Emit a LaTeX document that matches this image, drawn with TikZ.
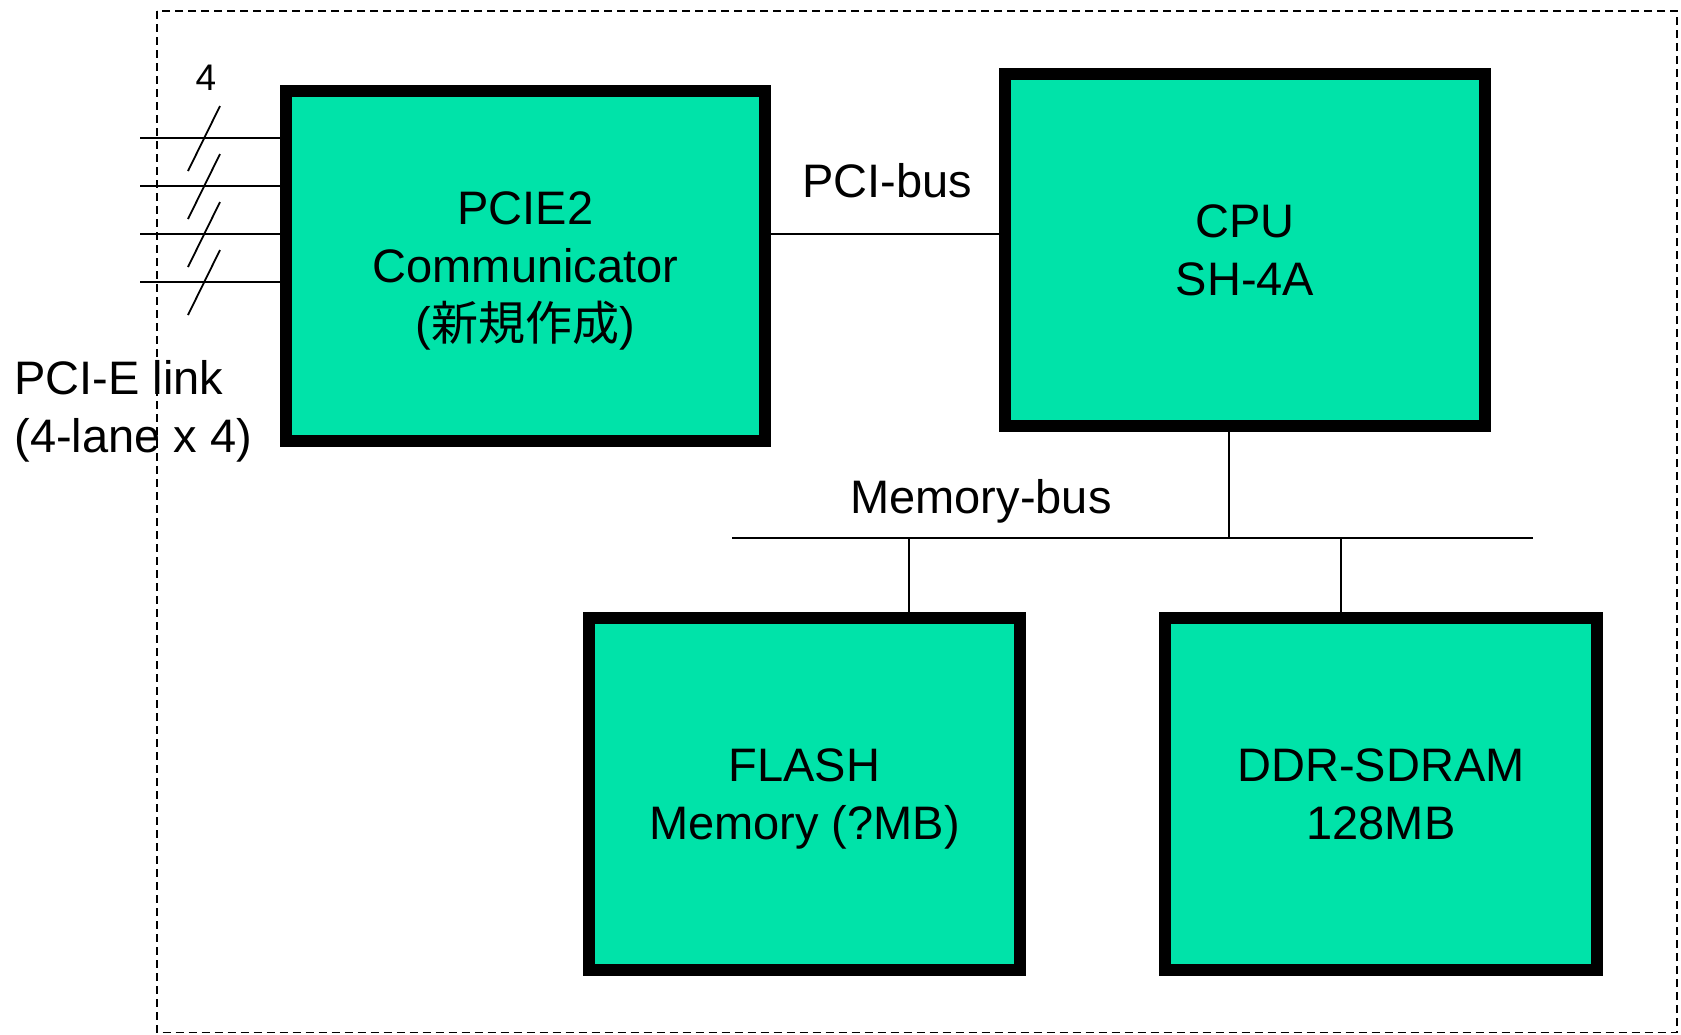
\documentclass[tikz,border=0pt]{standalone}
\usepackage{fontspec}
\setmainfont{Liberation Sans}
\newfontfamily\cjk{Noto Sans CJK JP}
\definecolor{boxgreen}{RGB}{0,227,169}
\newcommand\bl[1]{\smash{#1}\vphantom{H}}
\tikzset{
  unitbox/.style={draw=black, fill=boxgreen, line width=6pt, align=center, inner sep=0pt,
    font=\fontsize{23.5}{29}\selectfont},
  thin/.style={line width=1pt, black},
  lbl/.style={font=\fontsize{23.5}{29}\selectfont, inner sep=0pt},
}
\begin{document}
\begin{tikzpicture}[x=0.5pt, y=-0.5pt]
\useasboundingbox (0,0) rectangle (1681,1034);
% dashed frame
\draw[dashed, line width=0.75pt, dash pattern=on 4pt off 2.5pt] (157,11) rectangle (1677,1032.5);
% boxes
\node[unitbox, minimum width=239.5pt, minimum height=175pt] (pcie) at (525.5,266) {\bl{PCIE2}\\\bl{Communicator}\\\bl{({\cjk 新規作成})}};
\node[unitbox, minimum width=240pt, minimum height=176pt] (cpu) at (1245,250) {\bl{CPU}\\\bl{SH-4A}};
\node[unitbox, minimum width=215.5pt, minimum height=176pt] (flash) at (804.5,794) {\bl{FLASH}\\\bl{Memory (?MB)}};
\node[unitbox, minimum width=216pt, minimum height=176pt] (ddr) at (1381,794) {\bl{DDR-SDRAM}\\\bl{128MB}};
% PCI bus
\coordinate (pcibus) at (880,234);
\draw[thin] (pcie.east |- pcibus) -- (cpu.west |- pcibus);
\node[lbl] (pcibuslbl) at (887,181) {PCI-bus};
% lanes
\foreach \i/\y in {1/138,2/186,3/234,4/282}{
  \coordinate (lane\i) at (140,\y);
  \draw[thin] (lane\i) -- (lane\i -| pcie.west);
  \draw[line width=0.9pt] (188,\y+33) -- (220,\y-32);
}
\node[font=\fontsize{18.5}{22}\selectfont, inner sep=0pt] (four) at (206,78) {4};
\node[lbl, anchor=base west] (link1) at (14,394) {PCI-E link};
\node[lbl, anchor=base west] (link2) at (14,452) {(4-lane x 4)};
% memory bus
\coordinate (mbL) at (732,538);
\coordinate (mbR) at (1533,538);
\draw[thin] (mbL) -- (mbR);
\coordinate (cpuTap) at (1229,538);
\coordinate (flashTap) at (909,538);
\coordinate (ddrTap) at (1341,538);
\draw[thin] (cpu.south -| cpuTap) -- (cpuTap);
\draw[thin] (flashTap) -- (flash.north -| flashTap);
\draw[thin] (ddrTap) -- (ddr.north -| ddrTap);
\node[lbl] (mblbl) at (981,501) {Memory-bus};
\end{tikzpicture}
\end{document}
